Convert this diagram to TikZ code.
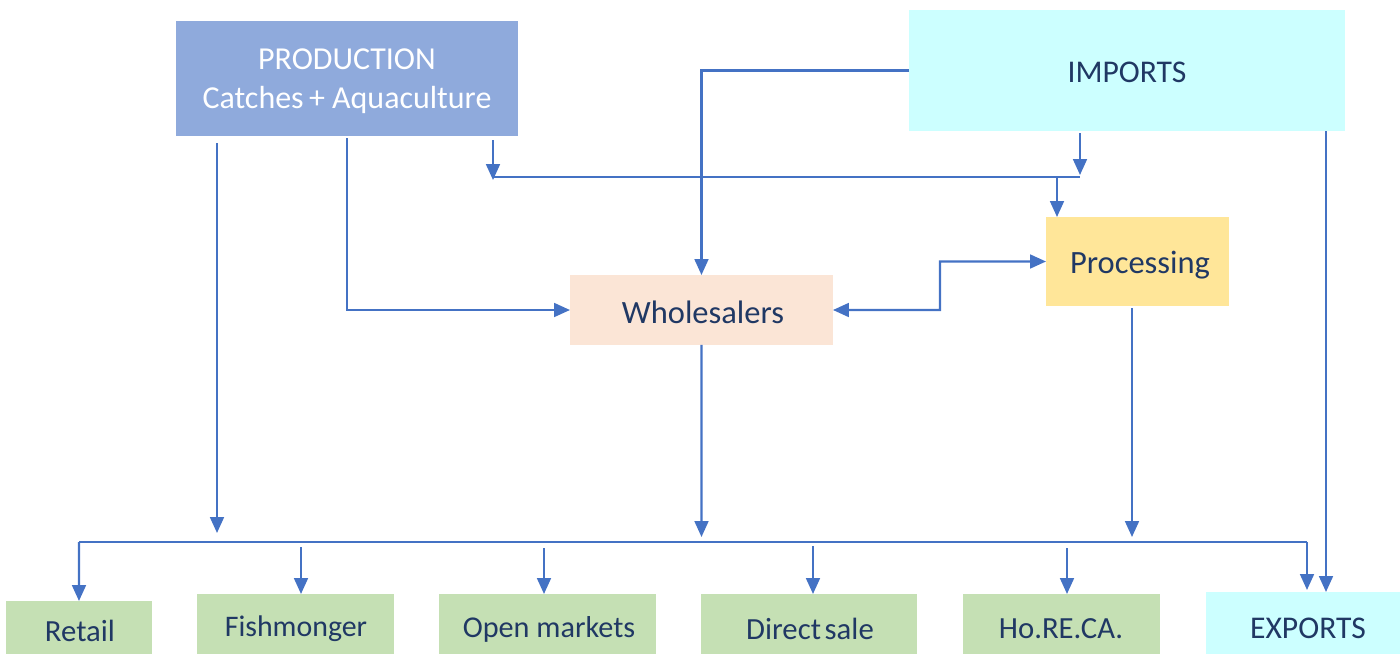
\documentclass[tikz,border=0pt]{standalone}
\usepackage{fontspec}
\setmainfont{Carlito}
\usetikzlibrary{arrows.meta}
\definecolor{prodc}{HTML}{8FAADC}
\definecolor{impc}{HTML}{CCFFFF}
\definecolor{procc}{HTML}{FFE699}
\definecolor{wholec}{HTML}{FBE5D6}
\definecolor{greenc}{HTML}{C5E0B4}
\definecolor{linec}{HTML}{4472C4}
\definecolor{txtc}{HTML}{203864}
\tikzset{
  box/.style={rectangle, inner sep=0pt, outer sep=0pt, anchor=north west, draw=none},
  lbl/.style={inner sep=0pt, text=txtc, font=\fontsize{17.5}{22}\selectfont},
  arr/.style={draw=linec, line width=1.3pt, -{Triangle[length=9pt,width=7.8pt]}},
  arrtwo/.style={draw=linec, line width=1.3pt, {Triangle[length=9pt,width=7.8pt]}-{Triangle[length=9pt,width=7.8pt]}},
  ln/.style={draw=linec, line width=1.3pt},
}
\begin{document}
\begin{tikzpicture}[x=0.02cm,y=-0.02cm]
\useasboundingbox (0,0) rectangle (1400,654);
% boxes
\node[box, fill=prodc, minimum width=6.84cm, minimum height=2.30cm] (prod) at (176,21) {};
\node[box, fill=impc, minimum width=8.72cm, minimum height=2.42cm] (imp) at (909,10) {};
\node[box, fill=procc, minimum width=3.66cm, minimum height=1.78cm] (proc) at (1046,217) {};
\node[box, fill=wholec, minimum width=5.26cm, minimum height=1.40cm] (whole) at (570,275) {};
\node[box, fill=greenc, minimum width=2.92cm, minimum height=1.06cm] (retail) at (6,601) {};
\node[box, fill=greenc, minimum width=3.94cm, minimum height=1.20cm] (fish) at (197,594) {};
\node[box, fill=greenc, minimum width=4.34cm, minimum height=1.20cm] (open) at (439,594) {};
\node[box, fill=greenc, minimum width=4.32cm, minimum height=1.20cm] (direct) at (701,594) {};
\node[box, fill=greenc, minimum width=3.94cm, minimum height=1.20cm] (horeca) at (963,594) {};
\node[box, fill=impc, minimum width=3.88cm, minimum height=1.24cm] (exports) at (1206,592) {};
% labels
\node[lbl, text=white, align=center, font=\fontsize{18.2}{22}\selectfont] (prodt) at (347,81) {PRODUCTION\\Catches\,+ Aquaculture};
\node[lbl, font=\fontsize{18}{22}\selectfont] (impt) at (1127,72) {IMPORTS};
\node[lbl, font=\fontsize{18.5}{22}\selectfont] (proct) at (1140,265) {Processing};
\node[lbl, font=\fontsize{18.5}{22}\selectfont] (wholet) at (703,312) {Wholesalers};
\node[lbl] (retailt) at (80,631) {Retail};
\node[lbl, font=\fontsize{17}{22}\selectfont] (fisht) at (296,629) {Fishmonger};
\node[lbl, font=\fontsize{17.2}{22}\selectfont] (opent) at (549,629) {Open markets};
\node[lbl] (directt) at (810,629) {Direct\hspace{0.12em}sale};
\node[lbl] (horecat) at (1061,629) {Ho.RE.CA.};
\node[lbl, font=\fontsize{18}{22}\selectfont] (exportst) at (1308,628) {EXPORTS};
% junction coordinates
\coordinate (pl1) at (217,143);
\coordinate (pl2) at (217,533);
\coordinate (pm) at (347,138);
\coordinate (pr1) at (493,140);
\coordinate (pr2) at (493,180);
\coordinate (hl) at (493,177);
\coordinate (hr) at (1080,177);
\coordinate (im1) at (1080,133);
\coordinate (im2) at (1080,175);
\coordinate (pj) at (1057,177);
\coordinate (dj) at (940,310);
\coordinate (wd) at (701.5,537);
\coordinate (ps1) at (1132,308);
\coordinate (ps2) at (1132,537);
\coordinate (ir) at (1326,131);
\coordinate (busL) at (79,542);
\coordinate (busR) at (1307,542);
\coordinate (ex1) at (1307,590);
\coordinate (f1) at (301,547);
\coordinate (o1) at (544,548);
\coordinate (d1) at (813,546);
\coordinate (h1) at (1067,548);
% connectors
\draw[arr] (pl1) -- (pl2);
\draw[arr] (pm) |- (whole.west);
\draw[arr] (pr1) -- (pr2);
\draw[ln] (hl) -- (hr);
\draw[arr] (im1) -- (im2);
\draw[arr] (pj) -- (pj |- proc.north);
\draw[arr] (imp.west) -| (whole.north);
\draw[arrtwo] (whole.east) -- (dj) |- (proc.west);
\draw[arr] (whole.south) -- (wd);
\draw[arr] (ps1) -- (ps2);
\draw[arr] (ir) -- (ir |- exports.north);
\draw[ln] (busL) -- (busR);
\draw[arr] (busL) -- (retail.north);
\draw[arr] (busR) -- (ex1);
\draw[arr] (f1) -- (f1 |- fish.north);
\draw[arr] (o1) -- (o1 |- open.north);
\draw[arr] (d1) -- (d1 |- direct.north);
\draw[arr] (h1) -- (h1 |- horeca.north);
\end{tikzpicture}
\end{document}
